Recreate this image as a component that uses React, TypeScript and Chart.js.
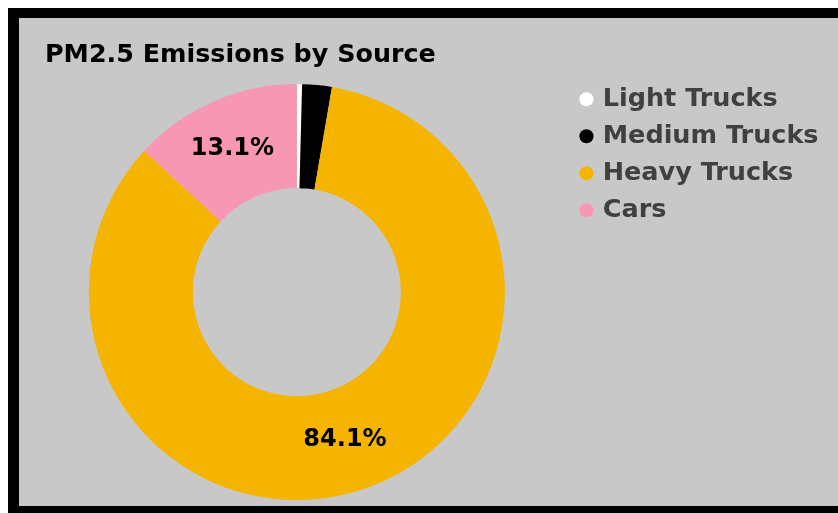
import React, { useEffect, useRef } from "react";
import { Chart, registerables } from "chart.js";

Chart.register(...registerables);

const titleText = "PM2.5 Emissions by Source";
const categories = ["Light Trucks", "Medium Trucks", "Heavy Trucks", "Cars"];
const shares = [0.4, 2.3, 84.1, 13.1];
const sliceColors = ["#ffffff", "#000000", "#f4b400", "#f797b4"];
const labelMin = 5;

const FONT = "'DejaVu Sans', 'Liberation Sans', sans-serif";

const sliceLabels = {
  id: "sliceLabels",
  afterDatasetsDraw(chart: any) {
    const ctx = chart.ctx;
    const meta = chart.getDatasetMeta(0);
    const data = chart.data.datasets[0].data as number[];
    ctx.save();
    ctx.font = `bold 24px ${FONT}`;
    ctx.fillStyle = "#000";
    ctx.textAlign = "center";
    ctx.textBaseline = "middle";
    meta.data.forEach((arc: any, i: number) => {
      if (data[i] < labelMin) return;
      const p = arc.tooltipPosition();
      ctx.fillText(`${data[i].toFixed(1)}%`, p.x - 2, p.y);
    });
    ctx.restore();
  },
};

const titleShift = {
  id: "titleShift",
  afterLayout(chart: any) {
    const t = chart.titleBlock;
    if (t) {
      t.left += 22.7;
      t.right += 22.7;
    }
  },
};

export default function App() {
  const ref = useRef<HTMLCanvasElement | null>(null);
  useEffect(() => {
    if (!ref.current) return;
    const chart = new Chart(ref.current, {
      type: "doughnut",
      data: {
        labels: categories,
        datasets: [
          {
            data: shares,
            backgroundColor: sliceColors,
            borderWidth: 0,
            radius: 208,
          } as any,
        ],
      },
      options: {
        responsive: false,
        animation: false,
        cutout: "50%",
        layout: { padding: { left: 3.3, right: 9.45, top: 0, bottom: 3.75 } },
        plugins: {
          title: {
            display: true,
            text: titleText,
            align: "start",
            color: "#000",
            font: { family: FONT, size: 25.4, weight: "bold", lineHeight: 1.2 },
            padding: { top: 22, bottom: 4.5 },
          },
          legend: {
            display: true,
            position: "right",
            align: "start",
            fullSize: false,
            labels: {
              usePointStyle: true,
              pointStyle: "circle",
              boxWidth: 7,
              boxHeight: 10,
              padding: 11.5,
              color: "#404040",
              font: { family: FONT, size: 25.5, weight: "bold" },
            },
          },
          tooltip: { enabled: false },
        },
      } as any,
      plugins: [sliceLabels, titleShift],
    });
    return () => chart.destroy();
  }, []);

  return (
    <div
      style={{
        position: "fixed",
        left: 8,
        top: 8,
        right: 0,
        bottom: 0,
        boxSizing: "border-box",
        borderTop: "10px solid #000",
        borderLeft: "11px solid #000",
        borderBottom: "7px solid #000",
        background: "#c8c8c8",
      }}
    >
      <canvas
        ref={ref}
        width={819}
        height={495}
        style={{ position: "absolute", left: 0, top: 0, width: 819, height: 495 }}
      />
    </div>
  );
}
